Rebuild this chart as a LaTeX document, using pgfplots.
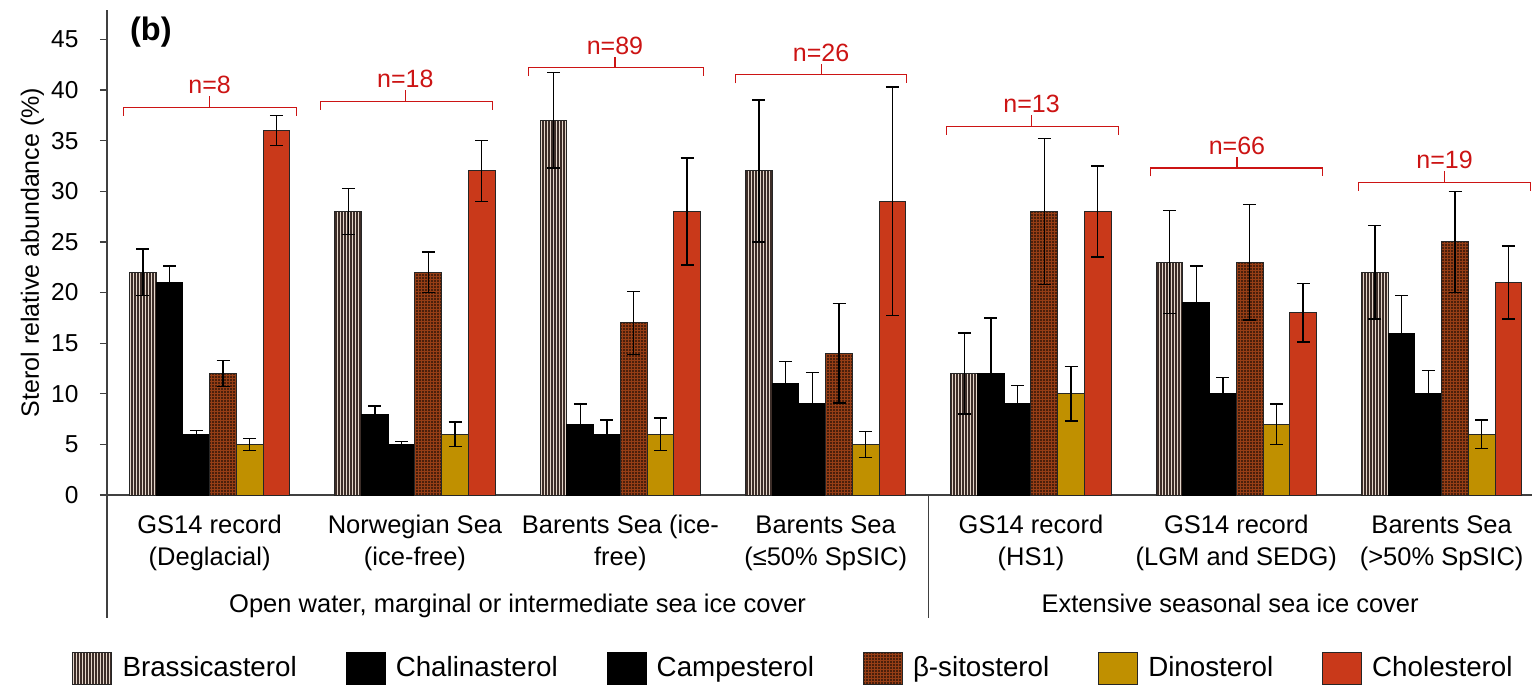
\documentclass[border=0pt]{standalone}
\usepackage{fontspec}
\setmainfont{Liberation Sans}
\usepackage{pgfplots}
\pgfplotsset{compat=1.18}
\usepackage{pgfplotstable}
\usetikzlibrary{patterns.meta}

\definecolor{brassbg}{RGB}{228,214,202}
\definecolor{brassln}{RGB}{60,45,40}
\definecolor{sitobg}{RGB}{150,62,22}
\definecolor{dino}{RGB}{192,144,0}
\definecolor{chol}{RGB}{201,57,26}
\definecolor{nred}{RGB}{204,20,20}
\definecolor{axgray}{RGB}{64,64,64}

\pgfplotstableread{
x brass brassE chal chalE camp campE sito sitoE dino dinoE chol cholE
0 22 2.3 21 1.6 6 0.4 12 1.3 5 0.6 36 1.5
1 28 2.3 8 0.8 5 0.3 22 2.0 6 1.2 32 3.0
2 37 4.7 7 2.0 6 1.4 17 3.1 6 1.6 28 5.3
3 32 7.0 11 2.2 9 3.1 14 4.9 5 1.3 29 11.3
4 12 4.0 12 5.5 9 1.8 28 7.2 10 2.7 28 4.5
5 23 5.1 19 3.6 10 1.6 23 5.7 7 2.0 18 2.9
6 22 4.6 16 3.7 10 2.3 25 5.0 6 1.4 21 3.6
}\data

\pgfplotsset{
  legbox/.style={legend image code/.code={\draw[##1] (0pt,-6.4pt) rectangle (15.6pt,6.4pt);}},
  eb/.style={error bars/.cd, y dir=both, y explicit,
     error bar style={black, line width=0.55pt},
     error mark options={rotate=90, black, mark size=2.6pt, line width=0.55pt}},
}

\newcommand{\brk}[5]{%
  \draw[nred, line width=0.45pt] ([yshift=-3.4pt]axis cs:#1,#4) -- (axis cs:#1,#4) -- (axis cs:#2,#4) -- ([yshift=-3.4pt]axis cs:#2,#4);
  \draw[nred, line width=0.45pt] (axis cs:#3,#4) -- ([yshift=4.4pt]axis cs:#3,#4);
  \node[anchor=base, inner sep=0pt, text=nred, font=\fontsize{10}{12}\selectfont] at ([yshift=5.4pt]axis cs:#3,#4) {#5};
}

\begin{document}
\begin{tikzpicture}
\begin{axis}[
  scale only axis, width=570pt, height=194pt,
  xmin=-0.5, xmax=6.44, ymin=0, ymax=47.9,
  axis x line=bottom, axis y line=left,
  axis line style={-, axgray, line width=0.5pt},
  xtick={0,...,6},
  xticklabels={{GS14 record\\(Deglacial)}, {Norwegian Sea\\(ice-free)}, {Barents Sea (ice-\\free)}, {Barents Sea\\(≤50\% SpSIC)}, {GS14 record\\(HS1)}, {GS14 record\\(LGM and SEDG)}, {Barents Sea\\(>50\% SpSIC)}},
  x tick label style={align=center, anchor=north, yshift=-0.4pt, font=\fontsize{10.2}{12.8}\selectfont},
  xtick style={draw=none, /pgfplots/major tick length=0pt},
  ytick={0,5,...,45}, tick align=outside,
  ytick style={axgray, line width=0.5pt, /pgfplots/major tick length=2.8pt},
  y tick label style={font=\fontsize{9.8}{12}\selectfont, xshift=-3.6pt},
  /pgf/number format/assume math mode=true,
  ylabel={Sterol relative abundance (\%)},
  every axis y label/.style={at={(axis description cs:0,0.5)}, xshift=-29.8pt, rotate=90, anchor=center, font=\fontsize{10}{12}\selectfont},
  clip=false,
  legend columns=6,
  legend style={draw=none, fill=none, at={(axis description cs:0,0)}, anchor=west, xshift=-14pt, yshift=-69.2pt, inner sep=0pt,
    font=\fontsize{11.1}{13}\selectfont,
    /tikz/every odd column/.append style={column sep=2pt},
    /tikz/every even column/.append style={column sep=17.6pt}},
  legend cell align=left,
]
\addplot[ybar, bar width=0.13, bar shift=0pt, fill=brassbg, draw=black!85, line width=0.4pt,
  postaction={pattern={Lines[angle=90,distance=1.2pt,line width=0.45pt]}, pattern color=brassln}, legbox, eb]
  table[x expr=\thisrow{x}-0.325, y=brass, y error=brassE] {\data};
\addlegendentry{Brassicasterol}
\addplot[ybar, bar width=0.13, bar shift=0pt, fill=black, draw=black, line width=0.4pt, legbox, eb]
  table[x expr=\thisrow{x}-0.195, y=chal, y error=chalE] {\data};
\addlegendentry{Chalinasterol}
\addplot[ybar, bar width=0.13, bar shift=0pt, fill=black, draw=black, line width=0.4pt, legbox, eb]
  table[x expr=\thisrow{x}-0.065, y=camp, y error=campE] {\data};
\addlegendentry{Campesterol}
\addplot[ybar, bar width=0.13, bar shift=0pt, fill=sitobg, draw=black!85, line width=0.4pt,
  postaction={pattern={Dots[distance=1.2pt,radius=0.35pt]}, pattern color=black}, legbox, eb]
  table[x expr=\thisrow{x}+0.065, y=sito, y error=sitoE] {\data};
\addlegendentry{β-sitosterol}
\addplot[ybar, bar width=0.13, bar shift=0pt, fill=dino, draw=black!85, line width=0.4pt, legbox, eb]
  table[x expr=\thisrow{x}+0.195, y=dino, y error=dinoE] {\data};
\addlegendentry{Dinosterol}
\addplot[ybar, bar width=0.13, bar shift=0pt, fill=chol, draw=black!85, line width=0.4pt, legbox, eb]
  table[x expr=\thisrow{x}+0.325, y=chol, y error=cholE] {\data};
\addlegendentry{Cholesterol}

\brk{-0.419}{0.425}{0.0}{38.3}{n=8}
\brk{0.538}{1.377}{0.953}{38.9}{n=18}
\brk{1.553}{2.403}{1.974}{42.2}{n=89}
\brk{2.563}{3.393}{2.978}{41.5}{n=26}
\brk{3.588}{4.428}{4.003}{36.4}{n=13}
\brk{4.580}{5.418}{5.003}{32.3}{n=66}
\brk{5.594}{6.433}{6.014}{30.9}{n=19}

\draw[axgray, line width=0.5pt] (axis cs:-0.5,0) -- ([yshift=-49.2pt]axis cs:-0.5,0);
\draw[axgray, line width=0.5pt] (axis cs:3.5,0) -- ([yshift=-49.2pt]axis cs:3.5,0);
\node[anchor=base, font=\fontsize{10.2}{12}\selectfont] at ([yshift=-46.8pt]axis cs:1.5,0) {Open water, marginal or intermediate sea ice cover};
\node[anchor=base, font=\fontsize{10.2}{12}\selectfont] at ([yshift=-46.8pt]axis cs:4.97,0) {Extensive seasonal sea ice cover};
\node[anchor=west, inner sep=0pt, font=\bfseries\fontsize{13}{15}\selectfont] at (axis cs:-0.39,45.7) {(b)};

\coordinate (bl) at (axis cs:-0.5,0);
\coordinate (tr) at (axis cs:6.44,47.9);
\end{axis}
\pgfresetboundingbox
\useasboundingbox ([xshift=-42.8pt,yshift=-76.4pt]bl) rectangle ([yshift=4pt]tr);
\end{tikzpicture}
\end{document}
